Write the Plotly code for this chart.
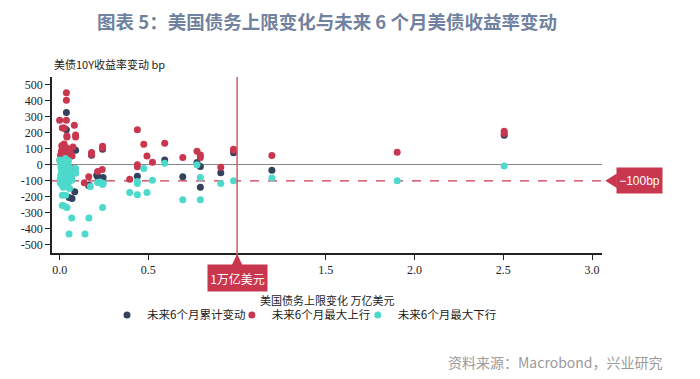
import plotly.graph_objects as go

# ---- data ----
cum_x = [0.038, 0.038, 0.09, 0.068, 0.07, 0.053, 0.085, 0.164, 0.18, 0.214, 0.242, 0.242, 0.438, 0.592, 0.694,
         0.774, 0.793, 0.793, 0.908, 0.98, 1.196, 2.505,
         0.01, 0.02, 0.03, 0.045, 0.06, 0.015, 0.063, 0.209, 0.218, 0.245, 0.167]
cum_y = [327, 219, 92, -92, -210, -205, -169, -131, 60, -75, 98, -90, -71, 31, -75,
         15, -10, -140, -50, 75, -34, 185,
         20, -10, 30, 5, -20, -50, -78, -65, -78, -80, -128]

up_x = [0.005, 0.01, 0.012, 0.015, 0.018, 0.02, 0.022, 0.025, 0.028, 0.03, 0.032, 0.035, 0.038, 0.04, 0.042,
        0.045, 0.048, 0.05, 0.055, 0.06, 0.065, 0.008, 0.003, 0.012, 0.025, 0.035, 0.045, 0.07,
        0.0, 0.038, 0.038, 0.015, 0.026, 0.038, 0.083, 0.041, 0.041, 0.09, 0.09, 0.075, 0.068, 0.164, 0.139,
        0.18, 0.18, 0.214, 0.24, 0.242, 0.242, 0.395, 0.438, 0.438, 0.438, 0.474, 0.492, 0.523, 0.592, 0.694,
        0.774, 0.793, 0.793, 0.908, 0.98, 0.98, 1.196, 1.902, 2.505, 2.505]
up_y = [60, 85, 120, 100, 70, 55, 95, 130, 80, 110, 65, 90, 75, 105, 60,
        85, 70, 50, 65, 75, 60, 40, 25, 45, 50, 40, 45, 55,
        279, 452, 404, 231, 231, 279, 248, 181, 175, 187, 175, 112, -23, -75, -112,
        77, 65, -42, -29, 117, 106, -90, 219, 0, -12, 129, 56, 17, 135, 46,
        85, 62, 46, -15, 97, 92, 58, 79, 210, 197]

down_x = [0.0, 0.005, 0.008, 0.01, 0.012, 0.015, 0.018, 0.02, 0.022, 0.025, 0.028, 0.03, 0.032, 0.035, 0.038,
          0.04, 0.042, 0.045, 0.048, 0.05, 0.003, 0.006, 0.012, 0.016, 0.02, 0.024, 0.028, 0.033, 0.036, 0.055,
          0.06, 0.065, 0.003, 0.01,
          0.015, 0.034, 0.015, 0.026, 0.041, 0.053, 0.068, 0.056, 0.068, 0.09, 0.09, 0.143, 0.165, 0.173,
          0.214, 0.242, 0.242, 0.395, 0.438, 0.438, 0.438, 0.474, 0.492, 0.523, 0.592, 0.694, 0.774, 0.793,
          0.793, 0.908, 0.98, 1.196, 1.902, 2.505, 0.02, 0.228, 0.246]
down_y = [30, 10, -20, -50, -80, -100, 0, 20, -30, -60, -90, -110, 40, 15, -10,
          -40, -70, -95, -115, 25, -110, -65, -5, -35, -120, 5, -45, -75, -105, -15,
          -50, -85, -90, -120,
          -190, -190, -254, -258, -267, -433, -333, -148, -96, -23, -52, -433, -333, -135,
          -110, -123, -267, -173, -104, -117, -187, -23, -173, -96, 10, -219, 0, -79,
          -219, -117, -100, -82, -100, -7, -140, -107, -115]

y_ticks = [500, 400, 300, 200, 100, 0, -100, -200, -300, -400, -500]
y_ticktext = ["500", "400", "300", "200", "100", "0", "-100", "-200", "-300", "-400", "-500"]
x_ticks = [0.0, 0.5, 1.0, 1.5, 2.0, 2.5, 3.0]
x_ticktext = ["0.0", "0.5", "1.0", "1.5", "2.0", "2.5", "3.0"]

ceiling_ref = 1.0
yield_ref = -100

NAVY = "#34425e"
RED = "#c9374f"
CYAN = "#4dd9cb"
CJK = "Noto Sans CJK SC"
SERIF = "Liberation Serif"

fig = go.Figure()
fig.add_trace(go.Scatter(x=cum_x, y=cum_y, mode="markers", name="未来6个月累计变动",
                         marker=dict(color=NAVY, size=7), legend="legend"))
fig.add_trace(go.Scatter(x=up_x, y=up_y, mode="markers", name="未来6个月最大上行",
                         marker=dict(color=RED, size=7), legend="legend2"))
fig.add_trace(go.Scatter(x=down_x, y=down_y, mode="markers", name="未来6个月最大下行",
                         marker=dict(color=CYAN, size=7), legend="legend3"))

# reference lines
fig.add_shape(type="line", xref="x", yref="paper", x0=ceiling_ref, x1=ceiling_ref, y0=-0.07, y1=1,
              line=dict(color="#d4596d", width=1.5), layer="above")
fig.add_shape(type="line", xref="paper", yref="y", x0=0, x1=1, y0=yield_ref, y1=yield_ref,
              line=dict(color=RED, width=1.3, dash="dash"), layer="below")

# label boxes with pointers
fig.add_shape(type="path", xref="x", yref="paper",
              path="M 0.97,-0.07 L 1.0,-0.005 L 1.03,-0.07 Z",
              fillcolor=RED, line=dict(width=0))
fig.add_annotation(x=ceiling_ref, xref="x", y=-0.143, yref="paper", text="1万亿美元", showarrow=False,
                   font=dict(family=CJK, size=12, color="white"), bgcolor=RED,
                   width=57, height=24, xanchor="center", yanchor="middle")
fig.add_shape(type="path", xref="paper", yref="y",
              path="M 1.006,-100 L 1.027,-55 L 1.027,-145 Z",
              fillcolor=RED, line=dict(width=0))
fig.add_annotation(x=1.025, xref="paper", y=yield_ref, yref="y", text="−100bp", showarrow=False,
                   font=dict(family="Liberation Sans", size=12, color="white"), bgcolor=RED,
                   width=43, height=23, xanchor="left", yanchor="middle")

# axis titles
fig.add_annotation(x=0.0, xref="paper", y=1.017, yref="paper", text="美债10Y收益率变动 bp",
                   showarrow=False, xanchor="left", yanchor="bottom",
                   font=dict(family=CJK, size=11, color="#222"))
fig.add_annotation(x=0.5, xref="paper", y=-0.267, yref="paper", text="美国债务上限变化 万亿美元",
                   showarrow=False, xanchor="center", yanchor="middle",
                   font=dict(family=CJK, size=11, color="#222"))
fig.add_annotation(x=1.115, xref="paper", y=-0.62, yref="paper", text="资料来源：Macrobond，兴业研究",
                   showarrow=False, xanchor="right", yanchor="middle",
                   font=dict(family=CJK, size=14, color="#9a9a9a"))

leg_common = dict(orientation="h", xanchor="left", y=-0.352, yanchor="middle",
                  font=dict(family=CJK, size=11.5, color="#222"), itemwidth=30,
                  bgcolor="rgba(0,0,0,0)")

fig.update_layout(
    width=692, height=371,
    margin=dict(l=44, r=98, t=69, b=126),
    paper_bgcolor="white", plot_bgcolor="white",
    title=dict(text="<b>图表 5：美国债务上限变化与未来 6 个月美债收益率变动</b>",
               x=0.5, xref="paper", xanchor="center", y=0.96, yref="container", yanchor="middle",
               font=dict(family=CJK, size=18.5, color="#7082a0")),
    showlegend=True,
    legend=dict(x=0.1, **leg_common),
    legend2=dict(x=0.327, **leg_common),
    legend3=dict(x=0.556, **leg_common),
    xaxis=dict(range=[-0.043, 3.056], tickvals=x_ticks, ticktext=x_ticktext,
               showgrid=False, zeroline=False, showline=True, linecolor="#222", linewidth=1.5,
               ticks="outside", ticklen=5, tickcolor="#222",
               tickfont=dict(family=SERIF, size=12, color="#222")),
    yaxis=dict(range=[-552, 550], tickvals=y_ticks, ticktext=y_ticktext,
               showgrid=False, zeroline=True, zerolinecolor="#888", zerolinewidth=1,
               showline=True, linecolor="#222", linewidth=1.5,
               ticks="outside", ticklen=5, tickcolor="#222",
               tickfont=dict(family=SERIF, size=12, color="#222")),
)

fig.write_html("out.html")
